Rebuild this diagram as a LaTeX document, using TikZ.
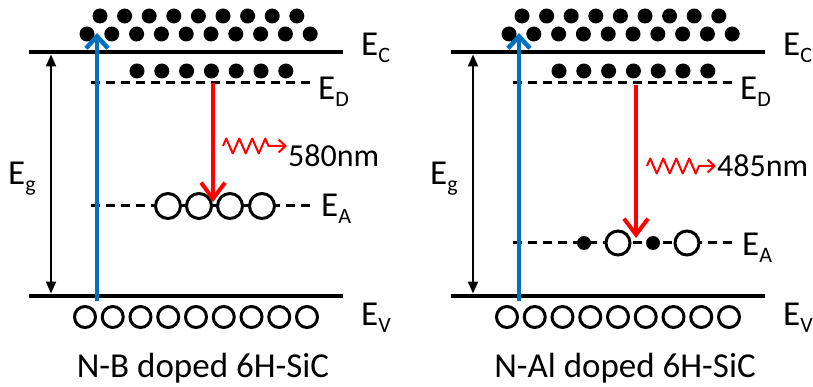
\documentclass[tikz,border=0pt]{standalone}
\usepackage{fontspec}
\setmainfont{Carlito}
\usetikzlibrary{arrows.meta,decorations.pathmorphing}
\definecolor{pumpblue}{RGB}{0,112,192}
\newcommand\lvl[1]{E\raisebox{-7pt}{\fontsize{22}{22}\selectfont #1}}
\tikzset{
  band/.style={line width=4.8pt},
  level/.style={line width=3pt, dash pattern=on 9pt off 6pt},
  electron/.style={fill=black},
  hole/.style={draw=black, line width=3pt, fill=white},
  lbl/.style={anchor=base west, inner sep=0pt, font=\fontsize{35}{40}\selectfont},
  wlbl/.style={lbl, font=\fontsize{32}{36}\selectfont},
  gaparrow/.style={line width=2pt, {Triangle[length=12pt,width=10pt]}-{Triangle[length=12pt,width=10pt]}},
  pump/.style={pumpblue, line width=4.5pt, -{Straight Barb[length=12pt,width=22pt]}},
  emit/.style={red, line width=4pt, -{Straight Barb[length=16pt,width=24pt]}},
  photon/.style={red, line width=2pt, line join=round, decorate,
    decoration={zigzag, segment length=13pt, amplitude=7.5pt, post length=15pt},
    -{Straight Barb[length=7pt,width=13pt]}},
}
\begin{document}
\begin{tikzpicture}[x=1pt, y=-1pt]
    \useasboundingbox (0,0) rectangle (813,387);

    \foreach \dx/\dop/\side in {0/B/l, 422/Al/r} {
      \begin{scope}[xshift=\dx pt]
        \draw[band] (29,52) -- (343,52);
        \draw[band] (29,296) -- (343,296);
        \draw[level] (91,83) -- (310,83);

        \foreach \i in {0,...,8} \fill[electron] (100+24.6*\i,16) circle (7.5pt);
        \foreach \i in {0,...,9} \fill[electron] (87+24.8*\i,34) circle (7.5pt);
        \foreach \i in {0,...,6} \fill[electron] (137+24.8*\i,71) circle (7.5pt);
        \foreach \i in {0,...,8} \draw[hole] (85+27.75*\i,317) circle (10.5pt);

        \coordinate (egtop-\side) at (51,54.5);
        \coordinate (egbot-\side) at (51,293.5);
        \draw[gaparrow] (egtop-\side) -- (egbot-\side);

        \node[lbl] (ec-\side) at (361,56) {\lvl{C}};
        \node[lbl] (ed-\side) at (318,100) {\lvl{D}};
        \node[lbl] (ev-\side) at (361,325) {\lvl{V}};
        \node[lbl] (eg-\side) at (8,185) {\lvl{g}};
        \node[lbl, anchor=base] (cap-\side) at (203,377) {N-\dop{} doped 6H-SiC};
      \end{scope}
    }

    \draw[level] (91,206) -- (310,206);
    \foreach \x in {168,199,230,262} \draw[hole] (\x,206) circle (12.5pt);
    \node[lbl] (ea-l) at (321,217) {\lvl{A}};

    \draw[level] (513,243) -- (732,243);
    \foreach \x in {584,653} \fill[electron] (\x,243) circle (7pt);
    \foreach \x in {618,687} \draw[hole] (\x,243) circle (12pt);
    \node[lbl] (ea-r) at (742,255) {\lvl{A}};

    \coordinate (pumpfrom-l) at (97,301);
    \coordinate (pumpto-l) at (97,33);
    \coordinate (pumpfrom-r) at (519,301);
    \coordinate (pumpto-r) at (519,33);
    \draw[pump] (pumpfrom-l) -- (pumpto-l);
    \draw[pump] (pumpfrom-r) -- (pumpto-r);

    \coordinate (emitfrom-l) at (213,83);
    \coordinate (emitto-l) at (213,202);
    \coordinate (emitfrom-r) at (636,85);
    \coordinate (emitto-r) at (636,238);
    \draw[emit] (emitfrom-l) -- (emitto-l);
    \draw[emit] (emitfrom-r) -- (emitto-r);

    \node[wlbl] (wl-l) at (288,167) {580nm};
    \node[wlbl] (wl-r) at (717,177) {485nm};
    \coordinate (wave-l) at (223,146);
    \coordinate (wave-r) at (647,166);
    \draw[photon] (wave-l) -- ([xshift=-1pt]wl-l.west |- wave-l);
    \draw[photon] (wave-r) -- ([xshift=-1pt]wl-r.west |- wave-r);
\end{tikzpicture}
\end{document}
